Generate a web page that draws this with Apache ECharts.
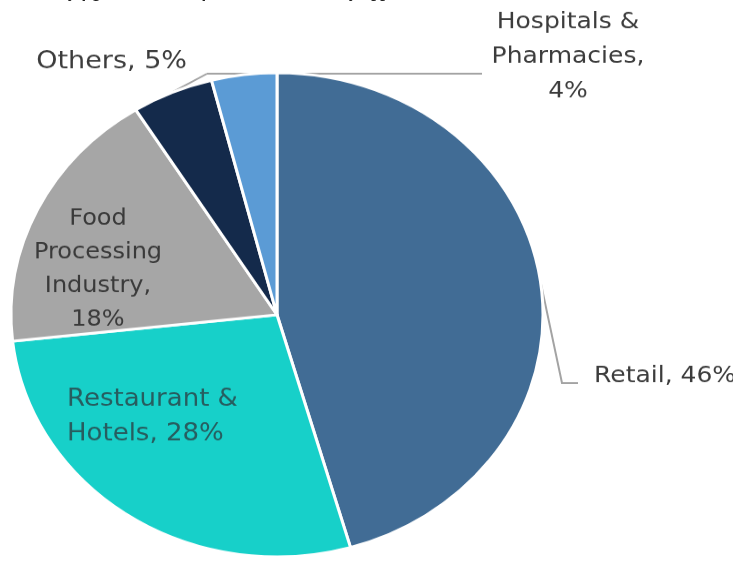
<!DOCTYPE html>
<html>
<head>
<meta charset="utf-8">
<script src="https://cdn.jsdelivr.net/npm/echarts@6/dist/echarts.min.js"></script>
<style>
    html, body { margin: 0; padding: 0; background: #fff; overflow: hidden; }
    /* source picture was stretched sideways, so squash the chart vertically */
    #main { width: 733px; height: 619px; transform: scaleY(0.9098); transform-origin: 0 0; }
</style>
</head>
<body>
<div id="main"></div>
<script>
    var categories = ["Retail", "Restaurant & Hotels", "Food Processing Industry", "Others", "Hospitals & Pharmacies"];
    var labelNames = ["Retail", "Restaurant &\nHotels", "Food\nProcessing\nIndustry", "Others", "Hospitals &\nPharmacies"];
    var shares = [46, 28, 18, 5, 4];
    var colors = ["#416c95", "#17d0c9", "#a6a6a6", "#142a4b", "#5b9bd5"];

    // label placement, by slice
    var spots = [
        {x: 594, y: 413, align: "left", line: [[562, 421], [578, 421]]},
        {x: 67, y: 458, align: "left"},
        {x: 98, y: 296, align: "center"},
        {x: 187, y: 68, align: "right", size: 27, line: [[207, 81]]},
        {x: 568, y: 62, align: "center", line: [[482, 81]], from: [207, 81]}
    ];
    var seps = [" ", " ", "\n", " ", "\n"];
    var insideSlices = [1, 2];

    var myChart = echarts.init(document.getElementById("main"));

    var data = categories.map(function (c, i) {
        var item = {name: c, value: shares[i], itemStyle: {color: colors[i]}};
        if (insideSlices.indexOf(i) >= 0) {
            item.label = {
                position: "inside",
                color: i === 1 ? "#275d5f" : "#3a3a3a",
                fontSize: i === 1 ? 26 : 24,
                lineHeight: i === 1 ? 38 : 37
            };
            item.labelLine = {show: false};
        }
        return item;
    });

    myChart.setOption({
        title: {
            text: "Industry figures: Frozen food market share by application",
            left: 10,
            top: -22,
            textStyle: {
                fontFamily: "Liberation Serif",
                fontStyle: "italic",
                fontWeight: "bold",
                fontSize: 18,
                color: "#222"
            }
        },
        series: [{
            type: "pie",
            center: [277, 346],
            radius: 266,
            startAngle: 90,
            animation: false,
            itemStyle: {borderColor: "#fff", borderWidth: 3},
            label: {
                position: "outside",
                overflow: "none",
                fontFamily: "DejaVu Sans",
                fontSize: 25,
                lineHeight: 38,
                color: "#3c3c3c",
                formatter: function (p) {
                    return labelNames[p.dataIndex] + "," + seps[p.dataIndex] + p.value + "%";
                }
            },
            labelLine: {
                show: true,
                smooth: false,
                lineStyle: {color: "#a3a3a3", width: 2}
            },
            labelLayout: function (params) {
                var s = spots[params.dataIndex];
                var out = {x: s.x, y: s.y, align: s.align, verticalAlign: "middle", width: 220};
                if (s.size) {
                    out.fontSize = s.size;
                }
                if (s.line && params.labelLinePoints) {
                    var start = s.from || params.labelLinePoints[0];
                    out.labelLinePoints = [start].concat(s.line);
                }
                return out;
            },
            data: data
        }]
    });
</script>
</body>
</html>
